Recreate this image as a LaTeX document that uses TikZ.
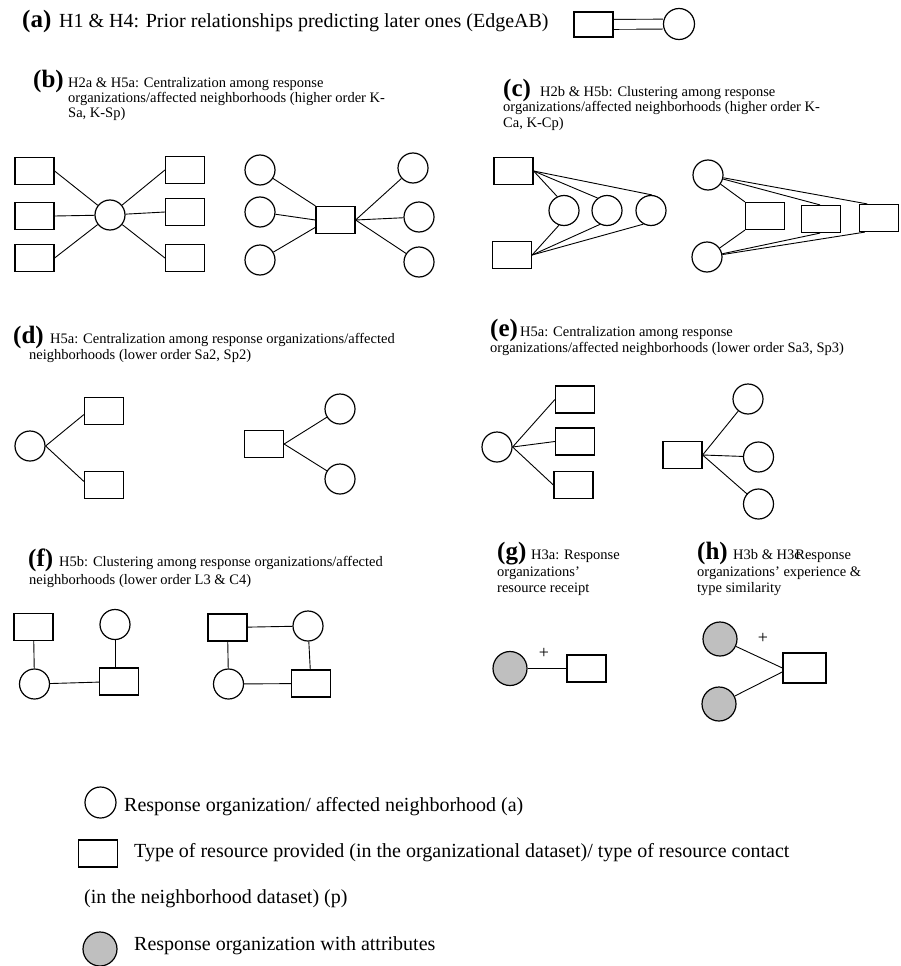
\documentclass[tikz,border=0pt]{standalone}
\usepackage{fontspec}
\setmainfont{Liberation Serif}
\usetikzlibrary{backgrounds}
\begin{document}
\begin{tikzpicture}[x=1pt,y=-1pt,
  box/.style={draw, rectangle, fill=white, minimum width=39pt, minimum height=27pt, inner sep=0pt, line width=1.2pt},
  circ/.style={draw, circle, fill=white, minimum size=30pt, inner sep=0pt, line width=1.2pt},
  gcirc/.style={circ, fill=gray!50, minimum size=34pt},
  conn/.style={line width=0.9pt},
  lab/.style={anchor=base west, inner sep=0pt, font=\fontsize{25}{25}\selectfont\bfseries},
  toptext/.style={anchor=base west, inner sep=0pt, font=\fontsize{20}{20}\selectfont},
  subcap/.style={anchor=base west, inner sep=0pt, font=\fontsize{14.5}{15}\selectfont},
  leg/.style={anchor=base west, inner sep=0pt, font=\fontsize{20}{22}\selectfont},
  plus/.style={inner sep=0pt, font=\fontsize{18}{18}\selectfont}]
\useasboundingbox (0,0) rectangle (901,966);

% ---------- (a)
\node[lab] (la) at (22,28) {(a)};
\node[toptext] (ta) at (59,28) {H1 \& H4: Prior relationships predicting later ones (EdgeAB)};
\node[box, minimum height=25pt] (ra) at (593.5,24.5) {};
\node[circ, minimum size=31pt] (ca) at (679,24) {};

% ---------- (b)
\node[lab] (lb) at (33,87) {(b)};
\node[subcap] (tb1) at (68,87) {H2a \& H5a: Centralization among response};
\node[subcap] (tb2) at (68,102) {organizations/affected neighborhoods (higher order K-};
\node[subcap] (tb3) at (68,117) {Sa, K-Sp)};
\node[box] (b1) at (34.5,171) {};
\node[box] (b2) at (34.5,216) {};
\node[box] (b3) at (34.5,258) {};
\node[circ] (bc) at (110,215) {};
\node[box] (b4) at (185,170) {};
\node[box] (b5) at (185,212) {};
\node[box] (b6) at (185,258) {};
\node[circ] (bl1) at (260,170) {};
\node[circ] (bl2) at (260,212) {};
\node[circ] (bl3) at (260,260) {};
\node[box] (br) at (335.5,220) {};
\node[circ] (br1) at (413,168) {};
\node[circ] (br2) at (419,217) {};
\node[circ] (br3) at (419,262) {};

% ---------- (c)
\node[lab] (lc) at (503,96) {(c)};
\node[subcap] (tc1) at (540,96) {H2b \& H5b: Clustering among response};
\node[subcap] (tc2) at (503,111) {organizations/affected neighborhoods (higher order K-};
\node[subcap] (tc3) at (503,127) {Ca, K-Cp)};
\node[box] (ct) at (513.5,171) {};
\node[box] (cb) at (512,255) {};
\node[circ] (c1) at (564,210.5) {};
\node[circ] (c2) at (607,210.5) {};
\node[circ] (c3) at (651,210.5) {};
\node[circ] (ctop) at (708,175) {};
\node[circ] (cbot) at (707,257) {};
\node[box] (r1) at (765,216) {};
\node[box] (r2) at (821,219) {};
\node[box] (r3) at (879,218) {};

% ---------- (d)
\node[lab] (ld) at (13,343) {(d)};
\node[subcap] (td1) at (50,343) {H5a: Centralization among response organizations/affected};
\node[subcap] (td2) at (29,359) {neighborhoods (lower order Sa2, Sp2)};
\node[circ] (dc) at (30,446) {};
\node[box] (d1) at (104,411) {};
\node[box] (d2) at (104,485) {};
\node[box] (de) at (264,444) {};
\node[circ] (dt) at (340,409) {};
\node[circ] (db) at (340,479) {};

% ---------- (e)
\node[lab] (le) at (490,336) {(e)};
\node[subcap] (te1) at (520,336) {H5a: Centralization among response};
\node[subcap] (te2) at (490,352) {organizations/affected neighborhoods (lower order Sa3, Sp3)};
\node[circ] (ec) at (497,447) {};
\node[box] (e1) at (575,399.5) {};
\node[box] (e2) at (575,441.5) {};
\node[box] (e3) at (573.5,485) {};
\node[box] (er) at (682.5,455) {};
\node[circ] (et) at (748,399) {};
\node[circ] (em) at (758.5,457) {};
\node[circ] (eb) at (758.5,504) {};

% ---------- (f)
\node[lab] (lf) at (28,566) {(f)};
\node[subcap] (tf1) at (59,566) {H5b: Clustering among response organizations/affected};
\node[subcap] (tf2) at (29,584) {neighborhoods (lower order L3 \& C4)};
\node[box] (fa) at (33.5,627) {};
\node[circ] (fb) at (115,624.5) {};
\node[circ] (fc) at (34.5,684) {};
\node[box] (fd) at (119,681.5) {};
\node[box] (fe) at (227.5,627.5) {};
\node[circ] (ff) at (308,626) {};
\node[circ] (fg) at (228.5,684) {};
\node[box] (fh) at (311,683.5) {};

% ---------- (g)
\node[lab] (lg) at (497,559) {(g)};
\node[subcap] (tg1) at (531,559) {H3a: Response};
\node[subcap] (tg2) at (497,576) {organizations'};
\node[subcap] (tg3) at (497,592) {resource receipt};
\node[gcirc] (gg1) at (510,668.5) {};
\node[box] (gg2) at (586.5,668.5) {};
\node[plus] (gp) at (544,653) {+};

% ---------- (h)
\node[lab] (lh) at (697,559) {(h)};
\node[subcap] (th1) at (733,559) {H3b \& H3c\kern-5.5pt Response};
\node[subcap] (th2) at (697,576) {organizations' experience \&};
\node[subcap] (th3) at (697,592) {type similarity};
\node[gcirc] (h1) at (720,639) {};
\node[gcirc] (h2) at (719,704) {};
\node[box, minimum width=43pt, minimum height=30pt] (hr) at (804.5,668) {};
\node[plus] (hp) at (763,638) {+};

% ---------- legend
\node[circ, minimum size=31pt] (kc) at (100.5,802.5) {};
\node[leg] (kt1) at (124,811) {Response organization/ affected neighborhood (a)};
\node[box] (kr) at (98,853.5) {};
\node[leg] (kt2) at (134,857) {Type of resource provided (in the organizational dataset)/ type of resource contact};
\node[leg] (kt3) at (84,903) {(in the neighborhood dataset) (p)};
\node[gcirc] (kg) at (100,949) {};
\node[leg] (kt4) at (134,950) {Response organization with attributes};

% ---------- connectors
\begin{scope}[on background layer]
\draw[conn, double, double distance=9pt] (ra) -- (ca);
% (b)
\draw[conn] (b1.east) -- (bc);
\draw[conn] (b2.east) -- (bc);
\draw[conn] (b3.east) -- (bc);
\draw[conn] (bc) -- (b4.west);
\draw[conn] (bc) -- (b5.west);
\draw[conn] (bc) -- (b6.west);
\draw[conn] (bl1) -- (br.north west);
\draw[conn] (bl2) -- (br.west);
\draw[conn] (bl3) -- (br.200);
\draw[conn] (br.east) -- (br1);
\draw[conn] (br.east) -- (br2);
\draw[conn] (br.east) -- (br3);
% (c)
\draw[conn] (ct.east) -- (c1.116);
\draw[conn] (ct.east) -- (c2.127);
\draw[conn] (ct.east) -- (c3.86);
\draw[conn] (cb.east) -- (c1.251);
\draw[conn] (cb.east) -- (c2.243);
\draw[conn] (cb.east) -- (c3.241);
\draw[conn] (ctop) -- (r1.north west);
\draw[conn] (ctop) -- (r2.94);
\draw[conn] (ctop) -- (r3.130);
\draw[conn] (cbot) -- (r1.south west);
\draw[conn] (cbot) -- (r2.266);
\draw[conn] (cbot) -- (r3.225);
% (d)
\draw[conn] (dc.east) -- (d1.190);
\draw[conn] (dc.east) -- (d2.170);
\draw[conn] (de.east) -- (dt);
\draw[conn] (de.east) -- (db);
% (e)
\draw[conn] (ec.east) -- (e1.west);
\draw[conn] (ec.east) -- (e2.west);
\draw[conn] (ec.east) -- (e3.west);
\draw[conn] (er.east) -- (et);
\draw[conn] (er.east) -- (em);
\draw[conn] (er.east) -- (eb);
% (f)
\draw[conn] (fa) -- (fc);
\draw[conn] (fb.south) -- (fb.south |- fd.north);
\draw[conn] (fc) -- (fd);
\draw[conn] (fe) -- (ff);
\draw[conn] (fe) -- (fg);
\draw[conn] (ff) -- (fh);
\draw[conn] (fg) -- (fh);
% (g)
\draw[conn] (gg1) -- (gg2);
% (h)
\draw[conn] (h1) -- (hr.west);
\draw[conn] (h2) -- (hr.190);
\end{scope}
\end{tikzpicture}
\end{document}
